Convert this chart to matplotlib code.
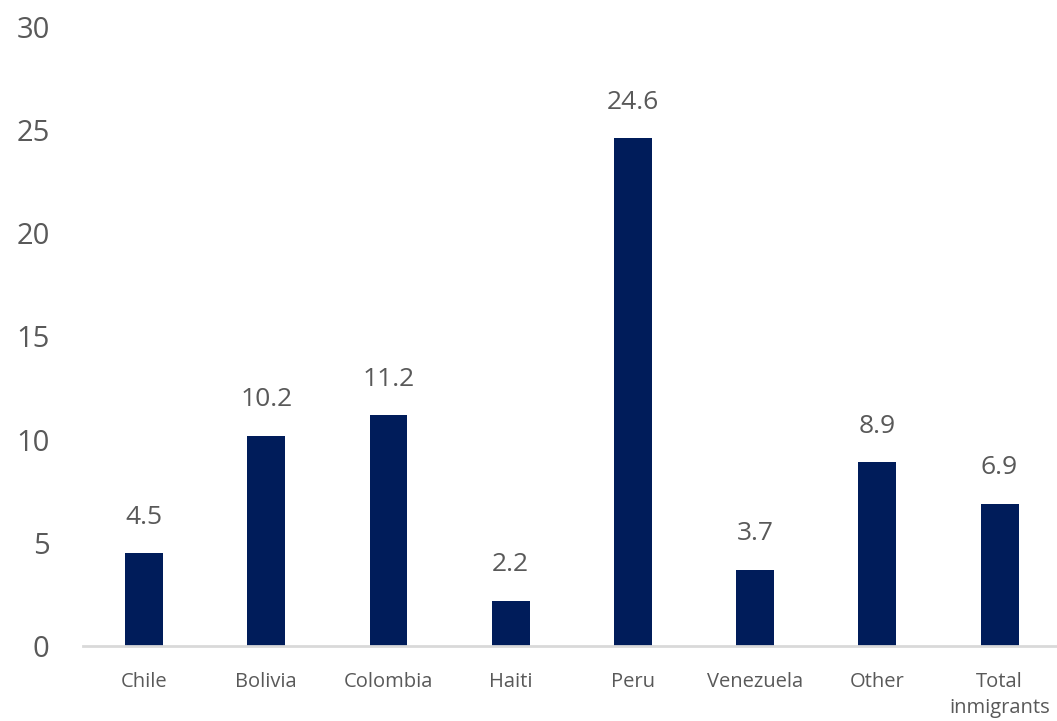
import matplotlib
matplotlib.use("Agg")
import matplotlib.pyplot as plt

plt.rcParams["font.family"] = ["Open Sans", "DejaVu Sans"]

# data
categories = ["Chile", "Bolivia", "Colombia", "Haiti", "Peru", "Venezuela", "Other", "Total\ninmigrants"]
values = [4.5, 10.2, 11.2, 2.2, 24.6, 3.7, 8.9, 6.9]
labels = ["4.5", "10.2", "11.2", "2.2", "24.6", "3.7", "8.9", "6.9"]
yticks = [0, 5, 10, 15, 20, 25, 30]

BAR = "#001c5a"
TXT = "#595959"

fig = plt.figure(figsize=(10.57, 7.21), dpi=100)
ax = fig.add_axes([0.0785, 0.104, 0.9215, 0.8586])

x = range(len(categories))
ax.bar(x, values, width=0.31, color=BAR, zorder=2)

for xi, v, lab in zip(x, values, labels):
    ax.annotate(lab, (xi, v), xytext=(0, 21), textcoords="offset points",
                ha="center", va="baseline", fontsize=19, color=TXT)

ax.set_xlim(-0.5, 7.47)
ax.set_ylim(0, 30)
ax.set_yticks(yticks)
ax.set_xticks(list(x))
ax.set_xticklabels(categories, fontsize=14.5, color=TXT, linespacing=1.35)
ax.tick_params(axis="y", length=0, pad=24, labelsize=21, labelcolor=TXT)
ax.tick_params(axis="x", length=0, pad=19)

for s in ["left", "right", "top"]:
    ax.spines[s].set_visible(False)
ax.spines["bottom"].set_color("#d9d9d9")
ax.spines["bottom"].set_linewidth(2)

fig.savefig("out.png", dpi=100)
